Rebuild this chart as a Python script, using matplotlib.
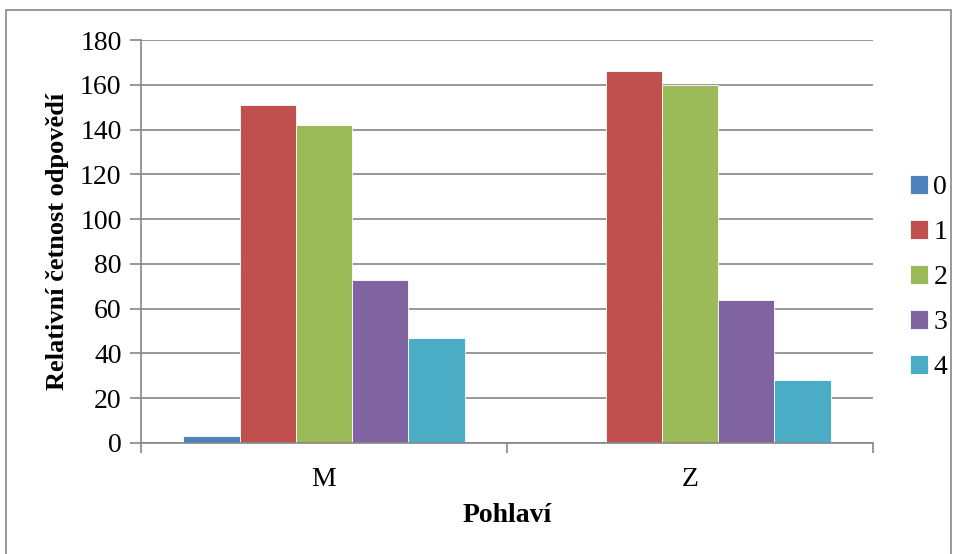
import matplotlib.pyplot as plt
import numpy as np

plt.rcParams['font.family'] = ['Liberation Serif', 'DejaVu Serif']

categories = ["M", "Z"]
series = ["0", "1", "2", "3", "4"]
values = [
    [3, 0],
    [151, 166],
    [142, 160],
    [73, 64],
    [47, 28],
]
colors = ["#4f81bd", "#c0504d", "#9bbb59", "#8064a2", "#4bacc6"]

fig = plt.figure(figsize=(9.58, 5.54), dpi=100)
ax = fig.add_axes([141 / 958, 1 - 443 / 554, (873 - 141) / 958, (443 - 40) / 554])

# outer chart frame
fig.patches.append(plt.Rectangle((6 / 958, -0.01), (951 - 6) / 958, 1 - 10 / 554 + 0.01,
                                 transform=fig.transFigure, fill=False,
                                 edgecolor="#888888", linewidth=1.2))

x = np.arange(len(categories))
w = 1 / 6.5
for i, s in enumerate(series):
    ax.bar(x + (i - 2) * w, values[i], width=w, color=colors[i], label=s,
           edgecolor="white", linewidth=0.6)

ax.set_xlim(-0.5, 1.5)
ax.set_ylim(0, 180)
ax.set_yticks(range(0, 181, 20))
ax.yaxis.grid(True, color="#868686", linewidth=1.2)
ax.set_axisbelow(True)

ax.set_xticks(x)
ax.set_xticklabels(categories)
ax.set_xticks([-0.5, 0.5, 1.5], minor=True)
ax.tick_params(axis="x", which="major", length=0, pad=17, labelsize=20)
ax.tick_params(axis="x", which="minor", length=7, color="#868686", width=1.2)
ax.tick_params(axis="y", length=8, color="#868686", width=1.2, labelsize=20, pad=6)

for side in ["top", "right"]:
    ax.spines[side].set_visible(False)
ax.spines["left"].set_color("#868686")
ax.spines["bottom"].set_color("#868686")
ax.spines["left"].set_linewidth(1.2)
ax.spines["bottom"].set_linewidth(1.2)

ax.set_xlabel("Pohlaví", fontsize=20, fontweight="bold", labelpad=8)
ax.set_ylabel("Relativní četnost odpovědí", fontsize=19, fontweight="bold", labelpad=8)

ax.legend(loc="center left", bbox_to_anchor=(1.035, 0.41), frameon=False, fontsize=20,
          handlelength=0.65, handleheight=0.65, handletextpad=0.2, labelspacing=0.72,
          borderaxespad=0)

fig.savefig("out.png", dpi=100)
